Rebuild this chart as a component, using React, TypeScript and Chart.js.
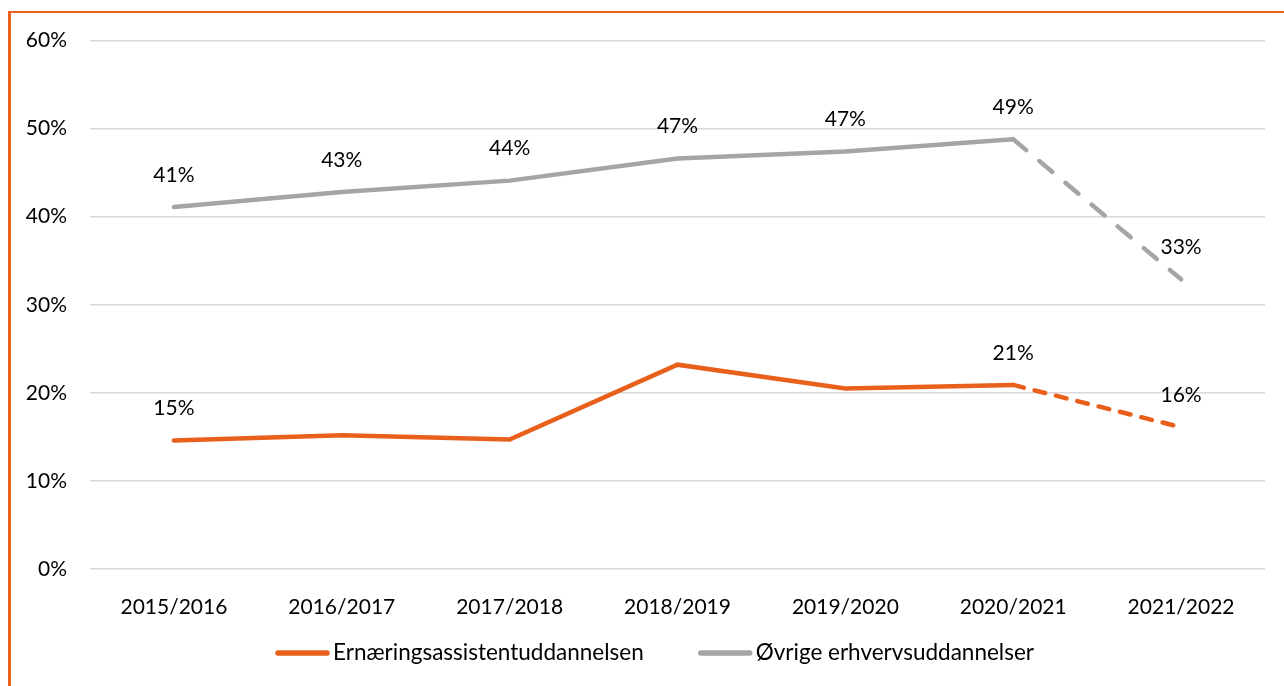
import React, { useEffect, useRef } from "react";
import { Chart, registerables } from "chart.js";

Chart.register(...registerables);

const categories = ["2015/2016", "2016/2017", "2017/2018", "2018/2019", "2019/2020", "2020/2021", "2021/2022"];
const ernaeringValues = [14.6, 15.2, 14.7, 23.2, 20.5, 20.9, 16.1];
const oevrigeValues = [41.1, 42.8, 44.1, 46.6, 47.4, 48.8, 32.9];
const ernaeringLabels = ["15%", "", "", "", "", "21%", "16%"];
const oevrigeLabels = ["41%", "43%", "44%", "47%", "47%", "49%", "33%"];
const yTicks = [0, 10, 20, 30, 40, 50, 60];

const ORANGE = "#E8601C";
const GRAY = "#A5A5A5";
const FONT = "Lato, 'Open Sans', sans-serif";
const FS = 21;
const TOP_SHIFT = 8;

export default function App() {
  const ref = useRef<HTMLCanvasElement | null>(null);
  useEffect(() => {
    if (!ref.current) return;
    const labelsBySeries = [ernaeringLabels, oevrigeLabels];
    const labelPlugin = {
      id: "pointLabels",
      afterDatasetsDraw(chart: any) {
        const ctx = chart.ctx;
        ctx.save();
        ctx.font = `${FS}px ${FONT}`;
        ctx.fillStyle = "#000";
        ctx.textAlign = "center";
        ctx.textBaseline = "middle";
        chart.data.datasets.forEach((ds: any, i: number) => {
          const meta = chart.getDatasetMeta(i);
          meta.data.forEach((pt: any, j: number) => {
            const t = labelsBySeries[i][j];
            if (t) ctx.fillText(t, pt.x, pt.y - 32);
          });
        });
        ctx.restore();
      },
    };
    const legendPlugin = {
      id: "lineLegend",
      afterDraw(chart: any) {
        const ctx = chart.ctx;
        ctx.save();
        ctx.font = `22.5px ${FONT}`;
        ctx.textBaseline = "middle";
        ctx.textAlign = "left";
        const sample = 55;
        const gap = 3;
        const spacing = 54;
        const items = chart.data.datasets.map((ds: any) => ({
          text: ds.label,
          color: ds.borderColor,
          w: sample + gap + ctx.measureText(ds.label).width,
        }));
        const total = items.reduce((a: number, it: any) => a + it.w, 0) + spacing * (items.length - 1);
        let x = chart.width / 2 + 7 - total / 2;
        const y = 653 - 13 + TOP_SHIFT;
        items.forEach((it: any) => {
          ctx.strokeStyle = it.color;
          ctx.lineWidth = 5.5;
          ctx.lineCap = "round";
          ctx.beginPath();
          ctx.moveTo(x + 3, y);
          ctx.lineTo(x + sample - 3, y);
          ctx.stroke();
          ctx.fillStyle = "#000";
          ctx.fillText(it.text, x + sample + gap, y);
          x += it.w + spacing;
        });
        ctx.restore();
      },
    };
    const chart = new Chart(ref.current, {
      type: "line",
      data: {
        labels: categories,
        datasets: [
          {
            label: "Ernæringsassistentuddannelsen",
            data: ernaeringValues,
            borderColor: ORANGE,
            backgroundColor: ORANGE,
            borderWidth: 4.5,
            borderCapStyle: "round",
            pointRadius: 0,
            tension: 0,
            segment: { borderDash: (c: any) => (c.p1DataIndex === 6 ? [11, 11] : undefined) },
          },
          {
            label: "Øvrige erhvervsuddannelser",
            data: oevrigeValues,
            borderColor: GRAY,
            backgroundColor: GRAY,
            borderWidth: 4.5,
            borderCapStyle: "round",
            pointRadius: 0,
            tension: 0,
            segment: { borderDash: (c: any) => (c.p1DataIndex === 6 ? [17, 17] : undefined) },
          },
        ],
      },
      options: {
        animation: false,
        responsive: true,
        maintainAspectRatio: false,
        layout: { padding: { top: 12, right: 19, bottom: 0, left: 0 } },
        scales: {
          x: {
            offset: true,
            grid: { display: false },
            border: { display: false },
            afterFit: (s: any) => {
              s.height = 117;
            },
            ticks: { color: "#000", font: { family: FONT, size: FS }, padding: 18, maxRotation: 0 },
          },
          y: {
            min: 0,
            max: 60,
            afterBuildTicks: (s: any) => {
              s.ticks = yTicks.map((v) => ({ value: v }));
            },
            afterFit: (s: any) => {
              s.width = 79;
            },
            grid: { color: "#D9D9D9", lineWidth: 1.5, drawTicks: false },
            border: { display: false },
            ticks: {
              color: "#000",
              font: { family: FONT, size: FS },
              padding: 23,
              callback: (v: any) => `${v}%`,
            },
          },
        },
        plugins: {
          legend: { display: false },
          tooltip: { enabled: false },
        },
      },
      plugins: [labelPlugin, legendPlugin],
    } as any);
    return () => chart.destroy();
  }, []);
  return (
    <div
      style={{
        position: "fixed",
        left: 8,
        top: 11,
        right: -20,
        bottom: -20,
        borderLeft: `3px solid ${ORANGE}`,
        borderTop: `2px solid ${ORANGE}`,
        background: "#fff",
      }}
    >
      <div style={{ position: "absolute", left: 0, top: -TOP_SHIFT, width: 1273, height: 673 + TOP_SHIFT }}>
        <canvas ref={ref} />
      </div>
    </div>
  );
}
